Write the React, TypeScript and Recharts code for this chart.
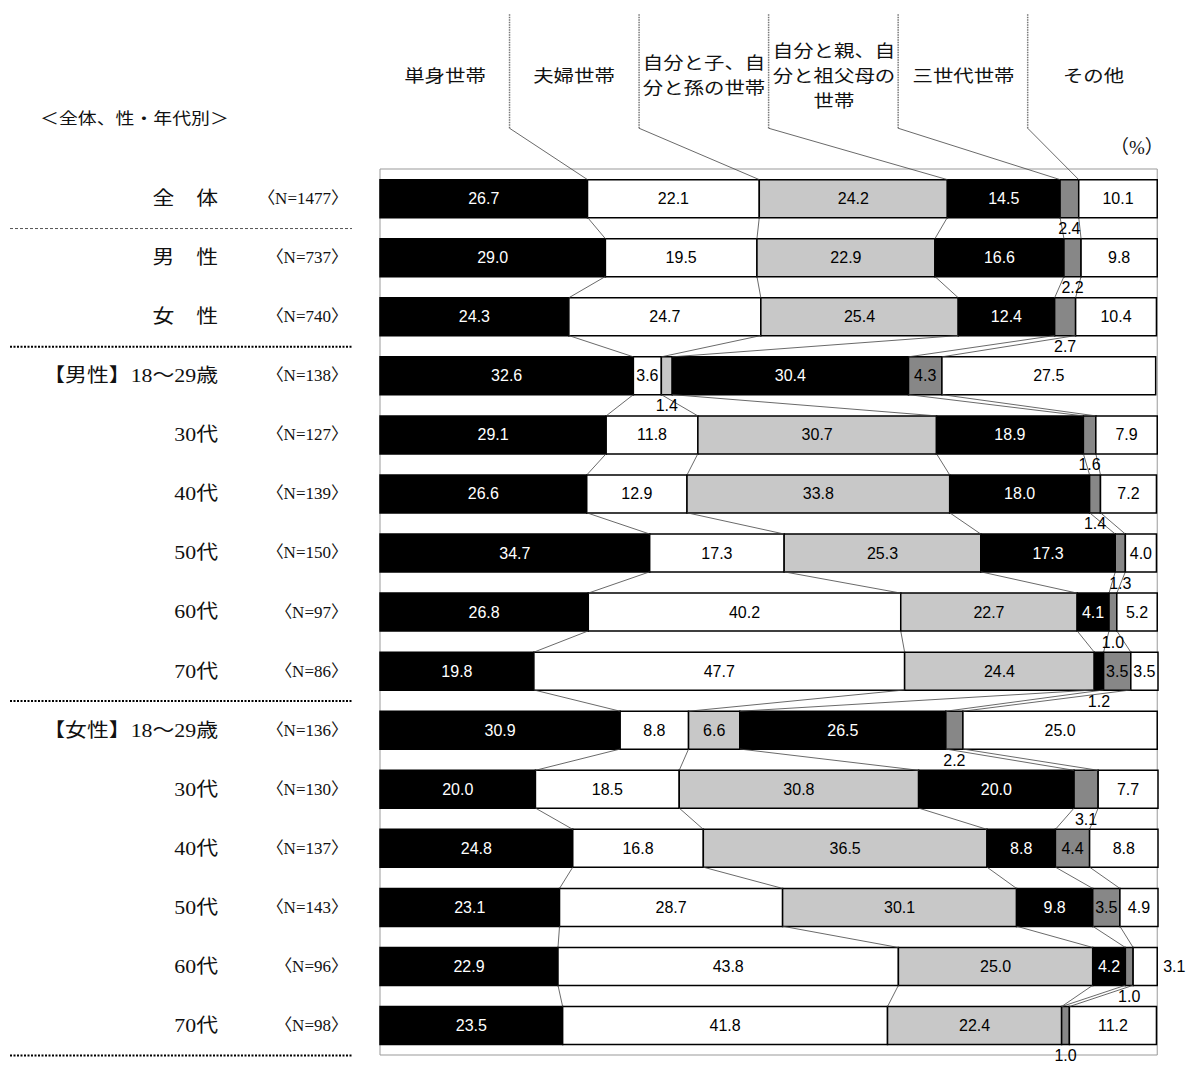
import React from 'react';
import { BarChart, Bar, XAxis, YAxis, ReferenceLine, ReferenceArea, LabelList } from 'recharts';

const groups = ['全　体', '男　性', '女　性', '【男性】18〜29歳', '30代', '40代', '50代', '60代', '70代', '【女性】18〜29歳', '30代', '40代', '50代', '60代', '70代'];
const sampleSizes = [1477, 737, 740, 138, 127, 139, 150, 97, 86, 136, 130, 137, 143, 96, 98];
const headerLabels = [['単身世帯'], ['夫婦世帯'], ['自分と子、自', '分と孫の世帯'], ['自分と親、自', '分と祖父母の', '世帯'], ['三世代世帯'], ['その他']];

const single = [26.7, 29.0, 24.3, 32.6, 29.1, 26.6, 34.7, 26.8, 19.8, 30.9, 20.0, 24.8, 23.1, 22.9, 23.5];
const couple = [22.1, 19.5, 24.7, 3.6, 11.8, 12.9, 17.3, 40.2, 47.7, 8.8, 18.5, 16.8, 28.7, 43.8, 41.8];
const withChild = [24.2, 22.9, 25.4, 1.4, 30.7, 33.8, 25.3, 22.7, 24.4, 6.6, 30.8, 36.5, 30.1, 25.0, 22.4];
const withParent = [14.5, 16.6, 12.4, 30.4, 18.9, 18.0, 17.3, 4.1, 1.2, 26.5, 20.0, 8.8, 9.8, 4.2, 0];
const threeGen = [2.4, 2.2, 2.7, 4.3, 1.6, 1.4, 1.3, 1.0, 3.5, 2.2, 3.1, 4.4, 3.5, 1.0, 1.0];
const other = [10.1, 9.8, 10.4, 27.5, 7.9, 7.2, 4.0, 5.2, 3.5, 25.0, 7.7, 8.8, 4.9, 3.1, 11.2];

const seriesValues = [single, couple, withChild, withParent, threeGen, other];
const seriesFill = ['#000000', '#ffffff', '#c8c8c8', '#000000', '#878787', '#ffffff'];
const seriesText = ['#ffffff', '#000000', '#000000', '#ffffff', '#000000', '#000000'];

const data = groups.map((g, i) => {
  const row: any = { id: String(i) };
  seriesValues.forEach((vals, k) => { row['s' + k] = vals[i]; });
  return row;
});

// cumulative boundaries (right edge of each segment)
const cumulative = groups.map((_, i) => {
  let sum = 0;
  return seriesValues.map((vals) => (sum += vals[i]));
});

const W = 1189;
const H = 1068;
const margin = { top: 169, right: 31, bottom: 13, left: 0 };
const axisWidth = 380;
const plotLeft = margin.left + axisWidth;
const plotWidth = W - margin.right - plotLeft;
const gap = 0.18;
const sepRows = [0, 2, 8, 14];
const n = groups.length;

// the hidden numeric y axis of a vertical layout spans the row indices 0..n-1
// over the plot height, so convert "row units" (0..n) into that axis
const rowToAxis = (r: number) => (r * (n - 1)) / n;

const serif = "'Liberation Serif', 'DejaVu Serif', 'Noto Sans CJK JP', serif";
const sans = "'Liberation Sans', Arial, 'Noto Sans CJK JP', sans-serif";
const gothic = "'Noto Sans CJK JP', 'Liberation Sans', sans-serif";

const RowTick = (props: any) => {
  const { y, payload } = props;
  const i = Number(payload.value);
  return (
    <g>
      <text transform={`translate(218,${y}) scale(1.15,1)`} textAnchor="end" dominantBaseline="central" fontSize={19} fontFamily={serif} fill="#111">
        {groups[i]}
      </text>
      <text x={348} y={y} textAnchor="end" dominantBaseline="central" fontSize={17} fontFamily={serif} fill="#111">
        〈N={sampleSizes[i]}〉
      </text>
      {sepRows.includes(i) && (
        <line x1={10} x2={352} y1={y + 30} y2={y + 30} stroke={i === 0 ? '#555' : '#000'} strokeWidth={i === 0 ? 1 : 2} strokeDasharray={i === 0 ? '3 2' : '2 1.5'} />
      )}
    </g>
  );
};

const makeLabel = (k: number) => (props: any) => {
  const { x, y, width, height, value } = props;
  if (!value) return null;
  const text = Number(value).toFixed(1);
  if (value < 3.2) {
    if (k === seriesValues.length - 1) {
      return (
        <text x={x + width + 6} y={y + height / 2} dominantBaseline="central" fontSize={16} fontFamily={sans} fill="#000">{text}</text>
      );
    }
    return (
      <text x={x + width / 2} y={y + height + 11} textAnchor="middle" dominantBaseline="central" fontSize={16} fontFamily={sans} fill="#000">{text}</text>
    );
  }
  return (
    <text x={x + width / 2} y={y + height / 2} textAnchor="middle" dominantBaseline="central" fontSize={16} fontFamily={sans} fill={seriesText[k]}>{text}</text>
  );
};

export default function App() {
  const connectors: any[] = [];
  for (let i = 0; i < n - 1; i++) {
    for (let k = 0; k < seriesValues.length - 1; k++) {
      connectors.push(
        <ReferenceLine
          key={`c-${i}-${k}`}
          yAxisId="pos"
          ifOverflow="visible"
          segment={[
            { x: cumulative[i][k], y: rowToAxis(i + 1 - gap) },
            { x: cumulative[i + 1][k], y: rowToAxis(i + 1 + gap) },
          ]}
          stroke="#444"
          strokeWidth={0.8}
        />
      );
    }
  }

  const headerTop = -2.62;
  const headerBottom = -0.69;
  const headerLines: any[] = [];
  for (let k = 1; k < seriesValues.length; k++) {
    const hx = (k * 100) / seriesValues.length;
    headerLines.push(
      <ReferenceLine key={`hv-${k}`} yAxisId="pos" ifOverflow="visible" segment={[{ x: hx, y: rowToAxis(headerTop) }, { x: hx, y: rowToAxis(headerBottom) }]} stroke="#777" strokeWidth={1.5} strokeDasharray="1.5 1" />,
      <ReferenceLine key={`hd-${k}`} yAxisId="pos" ifOverflow="visible" segment={[{ x: hx, y: rowToAxis(headerBottom) }, { x: cumulative[0][k - 1], y: rowToAxis(gap) }]} stroke="#444" strokeWidth={0.8} />
    );
  }

  const colW = plotWidth / headerLabels.length;

  return (
    <div style={{ position: 'absolute', left: 0, top: 0, width: W, height: H, background: '#fff' }}>
      <BarChart width={W} height={H} data={data} layout="vertical" margin={margin} barCategoryGap={`${gap * 100}%`}>
        <XAxis type="number" domain={[0, 100]} hide />
        <YAxis type="category" dataKey="id" width={axisWidth} axisLine={false} tickLine={false} interval={0} tick={<RowTick />} />
        <YAxis yAxisId="pos" type="number" domain={[0, n - 1]} hide allowDataOverflow />
        <ReferenceArea yAxisId="pos" x1={0} x2={100} y1={rowToAxis(0)} y2={rowToAxis(n)} fill="none" stroke="#999" strokeWidth={1} ifOverflow="visible" />
        {seriesValues.map((_, k) => (
          <Bar key={k} dataKey={'s' + k} stackId="a" fill={seriesFill[k]} stroke="#000" strokeWidth={1.5} isAnimationActive={false}>
            <LabelList dataKey={'s' + k} content={makeLabel(k)} />
          </Bar>
        ))}
        {connectors}
        {headerLines}
      </BarChart>
      {headerLabels.map((lines, k) => (
        <div
          key={k}
          style={{
            position: 'absolute', left: plotLeft + k * colW, width: colW, top: 34, height: 80,
            display: 'flex', alignItems: 'center', justifyContent: 'center', textAlign: 'center',
          }}
        >
          <div style={{ fontFamily: gothic, fontSize: 17, lineHeight: '25px', color: '#111', transform: 'scaleX(1.2)', whiteSpace: 'nowrap' }}>
            {lines.map((l, j) => <div key={j}>{l}</div>)}
          </div>
        </div>
      ))}
      <div style={{ position: 'absolute', left: 40, top: 105, fontFamily: gothic, fontSize: 16, color: '#111', transform: 'scaleX(1.18)', transformOrigin: 'left center', whiteSpace: 'nowrap' }}>
        ＜全体、性・年代別＞
      </div>
      <div style={{ position: 'absolute', left: 1110, top: 132, fontFamily: serif, fontSize: 19, color: '#111', whiteSpace: 'nowrap' }}>
        （%）
      </div>
    </div>
  );
}
